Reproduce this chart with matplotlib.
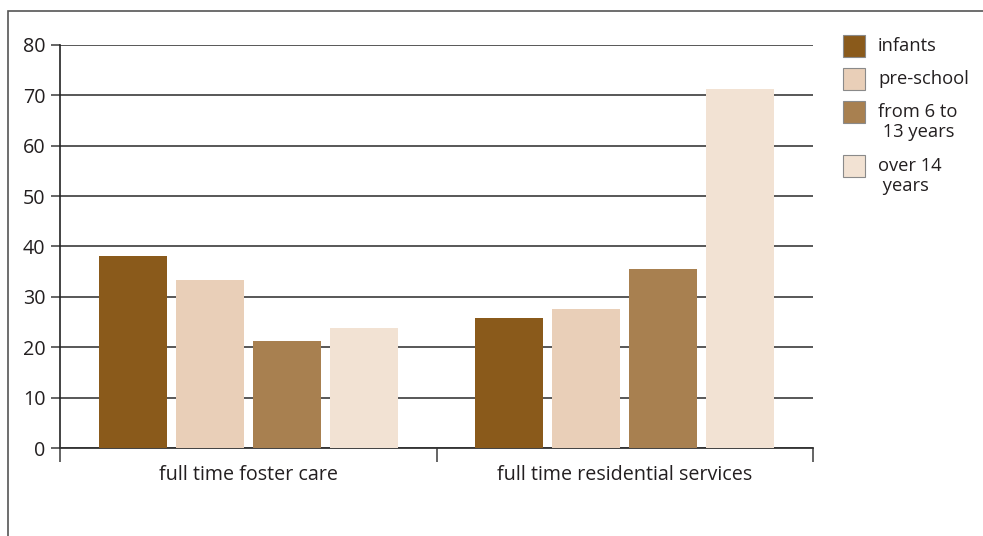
import matplotlib.pyplot as plt
from matplotlib.patches import Rectangle
import numpy as np

plt.rcParams['font.family'] = ['Open Sans', 'DejaVu Sans']

categories = ['full time foster care', 'full time residential services']
age_groups = ['infants', 'pre-school', 'from 6 to\n 13 years', 'over 14\n years']
colors = ['#8a5a1b', '#e9cfb8', '#a88050', '#f2e2d3']

# percentage per age group, one value per category
infants = [38.1, 25.8]
pre_school = [33.3, 27.6]
age_6_13 = [21.2, 35.5]
over_14 = [23.8, 71.2]
series = [infants, pre_school, age_6_13, over_14]

text_color = '#231f20'
line_color = '#4a4a4a'

W, H = 983, 536
fig = plt.figure(figsize=(W / 100, H / 100), dpi=100)
ax = fig.add_axes([60 / W, 1 - 448 / H, 753 / W, 403 / H])

x = np.arange(len(categories)) + 0.5
step = 0.2045
width = 0.18
for i, (vals, col) in enumerate(zip(series, colors)):
    ax.bar(x + (i - 1.5) * step, vals, width, color=col, zorder=3)

ax.set_xlim(0, 2)
ax.set_ylim(0, 80)
ax.set_yticks(range(0, 81, 10))
ax.yaxis.grid(True, color=line_color, linewidth=1.3, zorder=0)
ax.set_axisbelow(True)

ax.set_xticks(x)
ax.set_xticklabels(categories)
ax.set_xticks([0, 1, 2], minor=True)
ax.tick_params(axis='x', which='major', length=0, pad=12, labelsize=14.2, colors=text_color)
ax.tick_params(axis='x', which='minor', length=10, width=1.2, color=line_color, direction='out')
ax.tick_params(axis='y', length=6.5, width=1.2, color=line_color, labelsize=14.2,
               labelcolor=text_color, pad=4)

for side in ['top', 'right']:
    ax.spines[side].set_visible(False)
ax.spines['left'].set_color('#222222')
ax.spines['left'].set_linewidth(1.2)
ax.spines['bottom'].set_color('#333333')
ax.spines['bottom'].set_linewidth(1.3)

# legend: swatch aligned with the first line of each label
swatch_tops = [35, 68, 101, 155]
for label, col, top in zip(age_groups, colors, swatch_tops):
    fig.patches.append(Rectangle((843 / W, 1 - (top + 22) / H), 22 / W, 22 / H,
                                 transform=fig.transFigure, facecolor=col,
                                 edgecolor='#8a8a8a', linewidth=0.8))
    fig.text(878 / W, 1 - (top + 2) / H, label, ha='left', va='top', fontsize=13.2,
             color=text_color, linespacing=1.17)

# outer frame around the whole chart
fig.patches.append(Rectangle((8 / W, -0.1), 1.2, 1 - 11 / H + 0.1,
                             transform=fig.transFigure, fill=False,
                             edgecolor='#555555', linewidth=1.2))

fig.savefig('out.png', dpi=100)
